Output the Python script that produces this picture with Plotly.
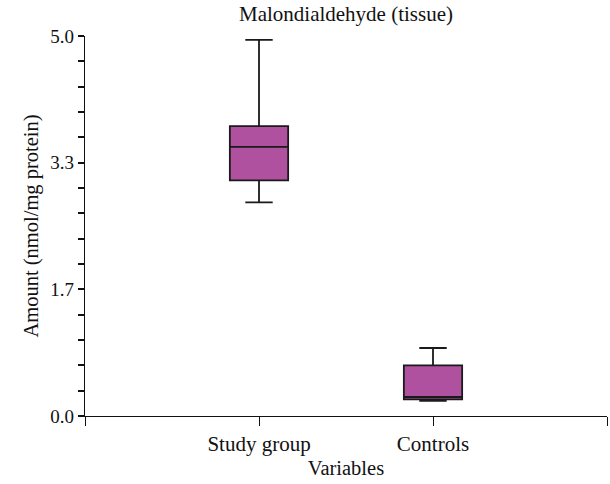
import plotly.graph_objects as go

categories = ["Study group", "Controls"]
positions = [0, 1]
lower_whisker = [2.81, 0.20]
q1 = [3.10, 0.22]
median = [3.54, 0.25]
q3 = [3.815, 0.665]
upper_whisker = [4.95, 0.895]

y_major_vals = [0, 5/3, 10/3, 5]
y_major_text = ["0.0", "1.7", "3.3", "5.0"]
y_minor_vals = [i / 3 for i in range(16)]
x_tick_vals = [-1, 0, 1, 2]
x_tick_text = ["", "Study group", "Controls", ""]

FONT = "Liberation Serif"
INK = "#111"

fig = go.Figure()
fig.add_trace(go.Box(
    x=positions, q1=q1, median=median, q3=q3,
    lowerfence=lower_whisker, upperfence=upper_whisker,
    width=0.335, whiskerwidth=0.47,
    fillcolor="#B0519F",
    line=dict(color="#1a1a1a", width=1.8),
    boxpoints=False, showlegend=False, hoverinfo="skip",
))

fig.update_layout(
    width=610, height=484,
    margin=dict(l=85, r=3, t=36, b=68),
    paper_bgcolor="white", plot_bgcolor="white",
    font=dict(family=FONT, size=20, color=INK),
    title=dict(text="Malondialdehyde (tissue)", x=0.5, xanchor="center", xref="paper",
               y=1 - 14/484, yanchor="middle", font=dict(family=FONT, size=21, color=INK)),
    showlegend=False,
)
fig.update_xaxes(
    range=[-1, 2], tickmode="array", tickvals=x_tick_vals, ticktext=x_tick_text,
    showline=True, linecolor=INK, linewidth=1.3,
    ticks="outside", ticklen=9, tickwidth=1.3, tickcolor=INK,
    showgrid=False, zeroline=False,
    title=dict(text="Variables", standoff=5, font=dict(family=FONT, size=20.5, color=INK)),
    tickfont=dict(family=FONT, size=21, color=INK),
)
fig.update_yaxes(
    range=[0, 5], tickmode="array", tickvals=y_major_vals, ticktext=y_major_text,
    showline=True, linecolor=INK, linewidth=1.3,
    ticks="outside", ticklen=6, tickwidth=1.5, tickcolor=INK,
    minor=dict(tickmode="array", tickvals=y_minor_vals, ticks="outside",
               ticklen=6, tickwidth=1.5, tickcolor=INK, showgrid=False),
    showgrid=False, zeroline=False,
    ticksuffix=" ",
    title=dict(text="Amount (nmol/mg protein)", standoff=6, font=dict(family=FONT, size=20.5, color=INK)),
    tickfont=dict(family=FONT, size=19, color=INK),
)

fig.write_html(
    "out.html",
    config={"displayModeBar": False},
    post_script="document.body.style.margin='0';document.body.style.overflow='hidden';",
)
